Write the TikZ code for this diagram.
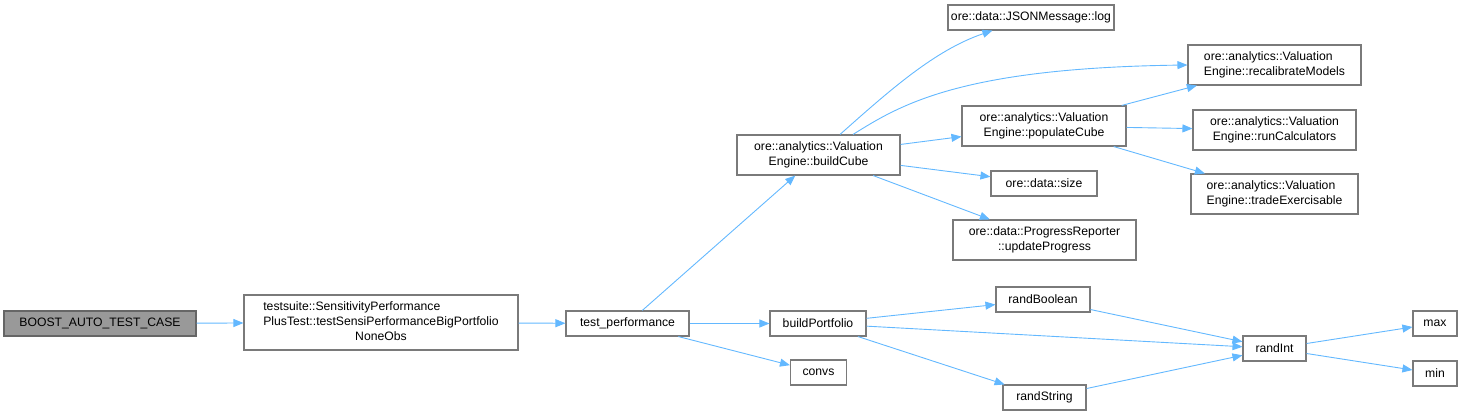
\documentclass[tikz,border=0pt]{standalone}
\usepackage{fontspec}
\setmainfont{Liberation Sans}
\usetikzlibrary{arrows.meta,calc}
\definecolor{edgec}{HTML}{63B8FF}
\definecolor{boxc}{HTML}{7A7A7A}
\definecolor{hlfill}{HTML}{999999}
\definecolor{hlborder}{HTML}{666666}
\newcommand{\lleft}[2]{\begin{tabular}{@{}l@{}}#1\\\multicolumn{1}{@{}c@{}}{#2}\end{tabular}}
\begin{document}
\begin{tikzpicture}[x=1pt,y=-1pt,
  box/.style={draw=boxc, line width=1.1pt, fill=white, inner sep=0pt, text=black,
    font=\fontsize{12.2}{15}\selectfont, align=center},
  hl/.style={box, fill=hlfill, draw=hlborder},
  edge/.style={draw=edgec, line width=0.9pt, -{Triangle[length=10pt,width=8pt]}}]
\useasboundingbox (0,0) rectangle (1461,417);
% nodes
\node[hl, minimum width=192, minimum height=25] (boost) at (100,323.5) {BOOST\_AUTO\_TEST\_CASE};
\node[box, minimum width=274, minimum height=55] (ts) at (381,322.5)
  {\begin{tabular}{@{}l@{}}testsuite::SensitivityPerformance\\PlusTest::testSensiPerformanceBigPortfolio\\\multicolumn{1}{@{}c@{}}{NoneObs}\end{tabular}};
\node[box, minimum width=123, minimum height=25] (tp) at (627.5,323.5) {test\_performance};
\node[box, minimum width=163, minimum height=40] (bc) at (818.5,155) {\lleft{ore::analytics::Valuation}{Engine::buildCube}};
\node[box, minimum width=166, minimum height=25] (log) at (1031,17.5) {ore::data::JSONMessage::log};
\node[box, minimum width=164, minimum height=40] (pc) at (1044,126) {\lleft{ore::analytics::Valuation}{Engine::populateCube}};
\node[box, minimum width=106, minimum height=25] (size) at (1044,183.5) {ore::data::size};
\node[box, minimum width=183, minimum height=40] (up) at (1044.5,240) {\lleft{ore::data::ProgressReporter}{::updateProgress}};
\node[box, minimum width=173, minimum height=40] (rm) at (1274.5,65) {\lleft{ore::analytics::Valuation}{Engine::recalibrateModels}};
\node[box, minimum width=163, minimum height=40] (rc) at (1274.5,130) {\lleft{ore::analytics::Valuation}{Engine::runCalculators}};
\node[box, minimum width=167, minimum height=40] (te) at (1274.5,194) {\lleft{ore::analytics::Valuation}{Engine::tradeExercisable}};
\node[box, minimum width=96, minimum height=25] (bp) at (818,323.5) {buildPortfolio};
\node[box, minimum width=56, minimum height=25] (cv) at (818.5,372.5) {convs};
\node[box, minimum width=94, minimum height=25] (rb) at (1043,299.5) {randBoolean};
\node[box, minimum width=83, minimum height=25] (rs) at (1044.5,397.5) {randString};
\node[box, minimum width=63, minimum height=25] (ri) at (1274.5,348.5) {randInt};
\node[box, minimum width=44, minimum height=25] (mx) at (1435,323.5) {max};
\node[box, minimum width=44, minimum height=25] (mn) at (1435,373.5) {min};
% edges
\draw[edge] (boost) -- (ts);
\draw[edge] (ts) -- (tp);
\draw[edge] (tp) -- (bc);
\draw[edge] (tp) -- (bp);
\draw[edge] (tp) -- (cv);
\draw[edge] ($(bc.north)+(21.5,0)$) .. controls (890,90) and (935,50) .. ($(log.south west)+(45,0)$);
\draw[edge] ($(bc.north)+(34.5,0)$) .. controls (900,105) and (960,68) .. (rm.west);
\draw[edge] (bc) -- (pc);
\draw[edge] (bc) -- (size);
\draw[edge] (bc) -- (up);
\draw[edge] (pc) -- (rm);
\draw[edge] (pc) -- (rc);
\draw[edge] (pc) -- (te);
\draw[edge] (bp) -- (rb);
\draw[edge] (bp) -- (ri);
\draw[edge] (bp) -- (rs);
\draw[edge] (rb) -- (ri);
\draw[edge] (rs) -- (ri);
\draw[edge] (ri) -- (mx);
\draw[edge] (ri) -- (mn);
\end{tikzpicture}
\end{document}
